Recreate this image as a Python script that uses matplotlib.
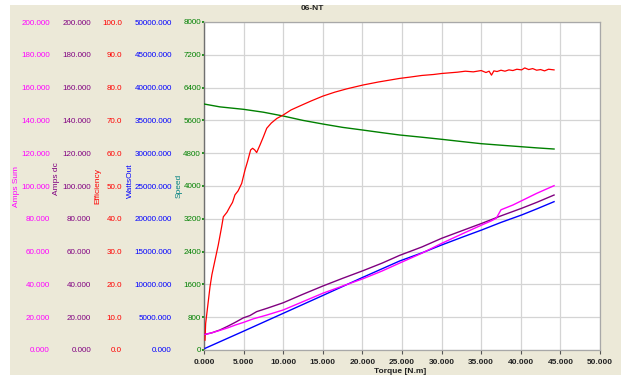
import matplotlib
matplotlib.use("Agg")
import matplotlib.pyplot as plt
from matplotlib.patches import Rectangle

plt.rcParams['font.family'] = ['Liberation Sans', 'DejaVu Sans']

# ---- data ----
torque_eff = [0.13, 0.21, 0.5, 0.76, 1.0, 1.39, 1.8, 2.23, 2.44, 2.9, 3.28, 3.6, 3.91, 4.3,
              4.76, 5.18, 5.5, 5.89, 6.14, 6.4, 6.65, 7.07, 7.5, 7.92, 8.5, 9.2, 9.97, 11.0,
              12.1, 13.5, 15.0, 16.5, 18.0, 20.1, 22.0, 24.7, 26.0, 27.5, 29.0, 30.0, 31.0,
              32.0, 33.0, 34.0, 35.0, 35.6, 36.0, 36.3, 36.6, 37.0, 37.5, 38.0, 38.5, 39.0,
              39.5, 40.1, 40.5, 41.0, 41.5, 42.0, 42.5, 43.0, 43.5, 44.2]
efficiency = [3.0, 8.1, 14.0, 19.3, 23.0, 27.4, 32.0, 37.6, 40.6, 42.0, 43.7, 45.0, 47.3, 48.5,
              50.8, 54.9, 57.5, 61.0, 61.5, 61.0, 60.2, 62.5, 65.0, 67.6, 69.2, 70.6, 71.6, 73.2,
              74.4, 75.9, 77.4, 78.6, 79.6, 80.8, 81.7, 82.8, 83.2, 83.7, 84.0, 84.3, 84.5,
              84.7, 85.0, 84.8, 85.2, 84.6, 85.0, 83.8, 85.1, 84.9, 85.3, 85.0, 85.4, 85.2,
              85.6, 85.4, 86.0, 85.5, 85.8, 85.3, 85.5, 85.1, 85.6, 85.4]

torque_speed = [0.0, 2.0, 5.0, 7.5, 10.0, 12.5, 15.0, 17.5, 20.0, 22.5, 24.7, 27.5, 30.0,
                32.5, 35.0, 37.5, 40.0, 42.0, 44.2]
speed = [6000, 5930, 5870, 5800, 5707, 5600, 5512, 5430, 5366, 5300, 5244, 5190, 5139,
         5085, 5032, 4995, 4959, 4930, 4902]

torque_sum = [0.13, 1.0, 2.02, 3.0, 4.0, 4.97, 6.23, 7.92, 10.0, 12.5, 15.0, 17.5, 20.1,
              22.5, 24.7, 27.5, 30.0, 32.5, 35.06, 36.3, 36.9, 37.5, 39.0, 40.1, 42.0, 44.2]
amps_sum = [9.5, 10.5, 12.0, 13.5, 15.3, 16.8, 19.0, 21.3, 24.4, 29.5, 34.6, 39.0, 43.5,
            48.2, 53.0, 59.0, 65.0, 70.6, 76.2, 78.8, 80.3, 85.5, 88.4, 91.0, 95.5, 100.2]

torque_dc = [0.13, 1.0, 2.0, 3.0, 4.0, 4.97, 5.8, 6.65, 8.0, 10.0, 12.5, 15.0, 17.5, 20.1,
             22.5, 24.7, 27.5, 30.0, 32.5, 35.06, 37.5, 40.1, 42.0, 44.2]
amps_dc = [9.5, 10.5, 12.2, 14.5, 17.0, 19.6, 21.0, 23.4, 25.5, 28.8, 34.0, 39.0, 43.7, 48.4,
           53.0, 57.7, 62.8, 68.1, 72.6, 77.2, 81.8, 86.4, 90.0, 94.5]

torque_watts = [0.13, 5.0, 10.0, 15.0, 20.0, 24.7, 27.5, 30.0, 32.5, 35.06, 37.5, 40.1, 42.0, 44.2]
watts_out = [250, 2870, 5590, 8310, 11050, 13567, 14800, 16006, 17150, 18293, 19450, 20579,
             21500, 22611]

x_ticks = [0, 5, 10, 15, 20, 25, 30, 35, 40, 45, 50]
speed_ticks = [0, 800, 1600, 2400, 3200, 4000, 4800, 5600, 6400, 7200, 8000]

W, H = 621, 375
BEIGE = '#ECE9D8'
FS = 5.8

fig = plt.figure(figsize=(W / 100, H / 100), dpi=100)
fig.patch.set_facecolor('white')
fig.add_artist(Rectangle((10 / W, 0), 1, 1 - 5 / H, transform=fig.transFigure,
                         facecolor=BEIGE, edgecolor='none', zorder=-10))

ax = fig.add_axes([204 / W, 25 / H, 396 / W, 328 / H])
ax.set_facecolor('white')
ax.set_xlim(0, 50)
ax.set_ylim(0, 8000)
ax.set_xticks(x_ticks)
ax.set_xticklabels([f"{v:.3f}" for v in x_ticks], fontsize=6, fontweight='bold', color='#222222')
ax.set_yticks(speed_ticks)
ax.set_yticklabels([str(v) for v in speed_ticks], fontsize=FS, color='#008000')
ax.tick_params(axis='x', length=3, width=0.8, color='#555555', pad=3.5)
ax.tick_params(axis='y', length=1.6, width=1.2, color='#008000', pad=0.6)
ax.grid(True, color='#D4D4D4', linewidth=0.9)
ax.set_axisbelow(True)
for side in ['top', 'right', 'bottom']:
    ax.spines[side].set_color('#A8A8A8')
    ax.spines[side].set_linewidth(0.9)
ax.spines['left'].set_color('#707070')
ax.spines['left'].set_linewidth(1.0)

ax.plot(torque_speed, speed, color='#008000', lw=1.0, zorder=3)


def side_axis(ylim, color, offset_px, fmt):
    t = ax.twinx()
    t.set_ylim(*ylim)
    t.yaxis.set_ticks_position('left')
    t.spines['left'].set_position(('outward', offset_px * 0.72))
    for s in t.spines.values():
        s.set_visible(False)
    step = (ylim[1] - ylim[0]) / 10
    ticks = [ylim[0] + i * step for i in range(11)]
    t.set_yticks(ticks)
    t.set_yticklabels([fmt.format(v) for v in ticks], fontsize=FS, color=color)
    t.tick_params(axis='y', length=0, pad=0)
    return t


ax_watts = side_axis((0, 50000), '#0000FF', 32, "{:.3f}")
ax_eff = side_axis((0, 100), '#FF0000', 82, "{:.1f}")
ax_dc = side_axis((0, 200), '#800080', 113, "{:.3f}")
ax_sum = side_axis((0, 200), '#FF00FF', 154, "{:.3f}")

ax_watts.plot(torque_watts, watts_out, color='#0000FF', lw=1.0)
ax_dc.plot(torque_dc, amps_dc, color='#800080', lw=1.0)
ax_sum.plot(torque_sum, amps_sum, color='#FF00FF', lw=1.0)
ax_eff.plot(torque_eff, efficiency, color='#FF0000', lw=0.9)

# axis names, rotated like the reference
labels = [("Amps Sum", 16, 187, '#FF00FF'), ("Amps dc", 57, 179, '#800080'),
          ("Efficiency", 98, 186, '#FF0000'), ("WattsOut", 130, 181, '#0000FF'),
          ("Speed", 179, 186, '#008080')]
for txt, xp, yp, col in labels:
    fig.text(xp / W, 1 - yp / H, txt, rotation=90, ha='center', va='center',
             fontsize=6, color=col)

fig.text(400 / W, 1 - 371.5 / H, "Torque [N.m]", ha='center', va='center',
         fontsize=6, fontweight='bold', color='#222222')
fig.text(312 / W, 1 - 9 / H, "06-NT", ha='center', va='center',
         fontsize=6, fontweight='bold', color='#222222')

fig.savefig("out.png", dpi=100, facecolor=fig.get_facecolor())
